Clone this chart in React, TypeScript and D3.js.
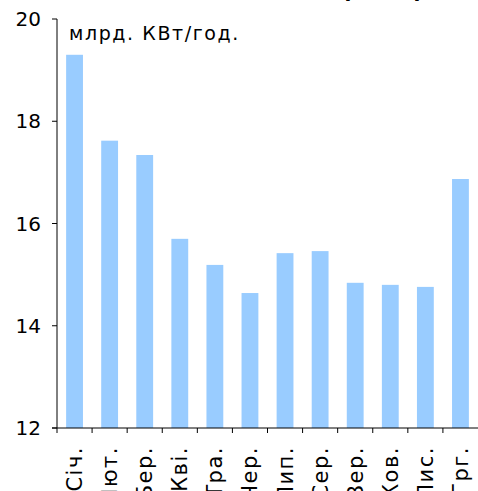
import React from "react";
import * as d3 from "d3";

const months = ["Січ.", "Лют.", "Бер.", "Кві.", "Тра.", "Чер.", "Лип.", "Сер.", "Вер.", "Жов.", "Лис.", "Грг."];
const values = [19.3, 17.62, 17.34, 15.7, 15.19, 14.64, 15.42, 15.46, 14.84, 14.8, 14.76, 16.87];
const yTicks = [12, 14, 16, 18, 20];
const unitLabel = "млрд. КВт/год.";
const title = "Споживання електроенергії";

export default function App() {
  const W = 478, H = 491;
  const left = 57, right = 478, top = 19, bottom = 428;
  const x = d3.scaleBand<string>().domain(months).range([left, right]).paddingInner(0.52).paddingOuter(0.26);
  const xb = d3.scaleBand<string>().domain(months).range([left, right]);
  const y = d3.scaleLinear().domain([12, 20]).range([bottom, top]);
  const font = "'DejaVu Sans', Verdana, sans-serif";
  return (
    <svg width={W} height={H} style={{ position: "absolute", left: 0, top: 0 }} fontFamily={font}>
      <rect width={W} height={H} fill="#fff" />
      <text x={290} y={-3.5} textAnchor="middle" fontWeight="bold" fontSize={20}>{title}</text>
      {months.map((m, i) => (
        <rect key={m} x={x(m)} y={y(values[i])} width={x.bandwidth()} height={bottom - y(values[i])} fill="#99CCFF" />
      ))}
      <line x1={left} x2={left} y1={top} y2={bottom} stroke="#000" strokeWidth={1} />
      <line x1={left - 5} x2={right} y1={bottom} y2={bottom} stroke="#000" strokeWidth={1} />
      {yTicks.map((t) => (
        <g key={t}>
          <line x1={left - 5} x2={left} y1={y(t)} y2={y(t)} stroke="#000" />
          <text x={41} y={y(t) + 7} textAnchor="end" fontSize={20}>{t}</text>
        </g>
      ))}
      {months.map((m) => (
        <line key={"t" + m} x1={xb(m)} x2={xb(m)} y1={bottom} y2={bottom + 5} stroke="#000" />
      ))}
      {months.map((m) => {
        const cx = (xb(m) as number) + xb.bandwidth() / 2;
        return (
          <text key={"l" + m} transform={`translate(${cx + 7.5},446) rotate(-90)`} textAnchor="end" fontSize={21} letterSpacing={1.5}>{m}</text>
        );
      })}
      <text x={69} y={40} fontSize={19} letterSpacing={1.6}>{unitLabel}</text>
    </svg>
  );
}
